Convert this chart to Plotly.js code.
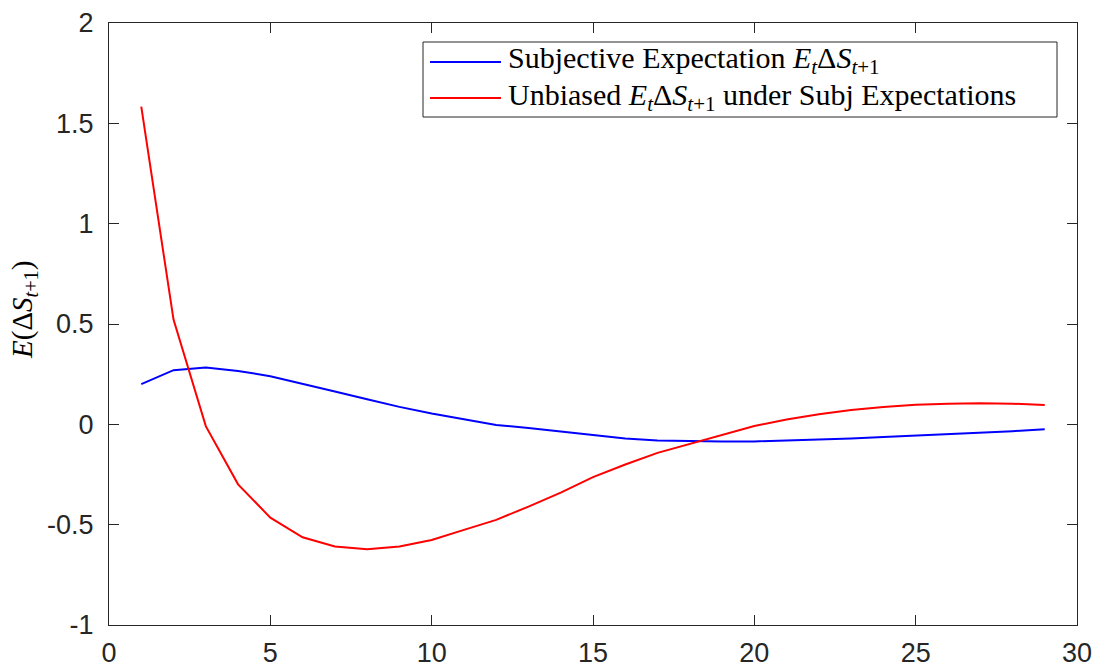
<!DOCTYPE html>
<html>
<head>
<meta charset="utf-8">
<script src="https://cdn.plot.ly/plotly-3.0.1.min.js"></script>
<style>
  html, body { margin: 0; padding: 0; background: #ffffff; }
  #chart { width: 1094px; height: 667px; }
</style>
</head>
<body>
<div id="chart"></div>
<script>
// Forecast horizon (periods ahead)
const horizon = [1, 2, 3, 4, 5, 6, 7, 8, 9, 10, 11, 12, 13, 14, 15,
                 16, 17, 18, 19, 20, 21, 22, 23, 24, 25, 26, 27, 28, 29];

// Subjective expectation of the change in S
const subjective = [0.200, 0.270, 0.283, 0.266, 0.240, 0.203, 0.164, 0.125, 0.087, 0.054,
                    0.024, -0.003, -0.018, -0.035, -0.055, -0.070, -0.080, -0.084, -0.086, -0.085,
                    -0.081, -0.076, -0.070, -0.063, -0.056, -0.050, -0.042, -0.034, -0.025];

// Unbiased expectation under subjective expectations
const unbiased = [1.583, 0.522, -0.009, -0.299, -0.465, -0.563, -0.609, -0.622, -0.609, -0.576,
                  -0.526, -0.476, -0.410, -0.340, -0.263, -0.200, -0.142, -0.097, -0.053, -0.008,
                  0.024, 0.050, 0.071, 0.087, 0.097, 0.103, 0.105, 0.103, 0.096];

const seriesNames = [
  'Subjective Expectation <i>E</i><sub><i>t</i></sub>Δ<i>S</i><sub><i>t</i>+1</sub>',
  'Unbiased <i>E</i><sub><i>t</i></sub>Δ<i>S</i><sub><i>t</i>+1</sub> under Subj Expectations'
];
const seriesColors = ['#0000ff', '#ff0000'];

const xTickVals = [0, 5, 10, 15, 20, 25, 30];
const yTickVals = [-1, -0.5, 0, 0.5, 1, 1.5, 2];
const yTickText = ['-1', '-0.5', '0', '0.5', '1', '1.5', '2'];
const yTitle = '<i>E</i>(Δ<i>S</i><sub><i>t</i>+1</sub>)';

// Figure geometry (pixels)
const W = 1094, H = 667;
const M = { l: 109, r: 17, t: 23, b: 42 };
const plotW = W - M.l - M.r, plotH = H - M.t - M.b;
const px = x => (x - M.l) / plotW;          // pixel x -> paper x
const py = y => (H - M.b - y) / plotH;       // pixel y -> paper y

const axisColor = '#262626';
const tickFont = { family: 'Liberation Sans, Arial, sans-serif', size: 27, color: axisColor };
const serif = 'Liberation Serif, Times New Roman, serif';

const traces = [subjective, unbiased].map((vals, i) => ({
  type: 'scatter',
  mode: 'lines',
  x: horizon,
  y: vals,
  name: seriesNames[i],
  line: { color: seriesColors[i], width: 2 },
  showlegend: false,
  hoverinfo: 'x+y'
}));

// Boxed legend in the upper right of the axes
const legendBox = { x0: 423, x1: 1057, y0: 42, y1: 117 };
const rowY = [60, 97];
const sample = { x0: 430, x1: 501 };
const textX = 506;

const shapes = [{
  type: 'rect', xref: 'paper', yref: 'paper', layer: 'above',
  x0: px(legendBox.x0), x1: px(legendBox.x1), y0: py(legendBox.y1), y1: py(legendBox.y0),
  line: { color: axisColor, width: 1 }, fillcolor: '#ffffff'
}];
const annotations = [];
seriesNames.forEach((name, i) => {
  shapes.push({
    type: 'line', xref: 'paper', yref: 'paper', layer: 'above',
    x0: px(sample.x0), x1: px(sample.x1), y0: py(rowY[i] + 2 - i), y1: py(rowY[i] + 2 - i),
    line: { color: seriesColors[i], width: 2 }
  });
  annotations.push({
    xref: 'paper', yref: 'paper', x: px(textX), y: py(rowY[i]),
    xanchor: 'left', yanchor: 'middle', showarrow: false,
    text: name, font: { family: serif, size: 30, color: '#000000' }
  });
});

// Y-axis label, rotated, to the left of the tick labels
annotations.push({
  xref: 'paper', yref: 'paper', x: px(24), y: py(310),
  xanchor: 'center', yanchor: 'middle', showarrow: false, textangle: -90,
  text: yTitle, font: { family: serif, size: 29, color: '#000000' }
});

const axisCommon = {
  showgrid: false, zeroline: false,
  showline: true, linecolor: axisColor, linewidth: 1,
  mirror: 'allticks', ticks: 'inside', ticklen: 10, tickwidth: 1, tickcolor: axisColor,
  tickfont: tickFont, fixedrange: true
};

const layout = {
  width: W, height: H,
  margin: M,
  paper_bgcolor: '#ffffff', plot_bgcolor: '#ffffff',
  showlegend: false,
  xaxis: Object.assign({}, axisCommon, {
    range: [0, 30], tickmode: 'array', tickvals: xTickVals,
    ticktext: xTickVals.map(String), ticklabelstandoff: 4
  }),
  yaxis: Object.assign({}, axisCommon, {
    range: [-1, 2], tickmode: 'array', tickvals: yTickVals, ticktext: yTickText,
    ticklabelstandoff: 9
  }),
  shapes: shapes,
  annotations: annotations
};

Plotly.newPlot('chart', traces, layout, { displayModeBar: false, staticPlot: true });
</script>
</body>
</html>
